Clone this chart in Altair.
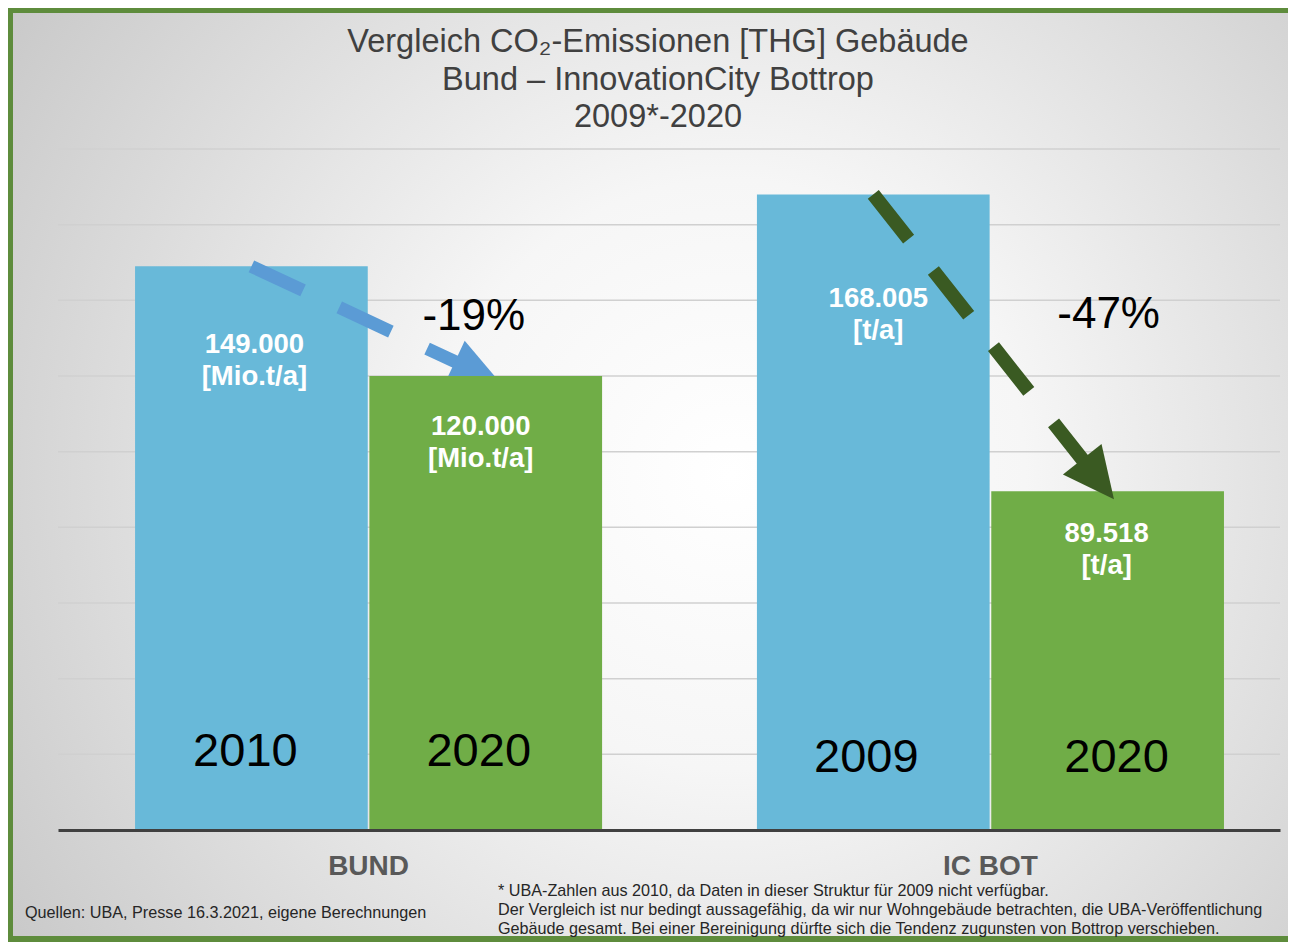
import altair as alt
import pandas as pd

# ---------------- data ----------------
groups = ["BUND", "BUND", "IC BOT", "IC BOT"]
slots = ["vorher", "nachher", "vorher", "nachher"]
years = ["2010", "2020", "2009", "2020"]
values = [149000, 120000, 168005, 89518]
units = ["[Mio.t/a]", "[Mio.t/a]", "[t/a]", "[t/a]"]
group_order = ["BUND", "IC BOT"]
slot_order = ["vorher", "nachher"]
grid_values = [20000, 40000, 60000, 80000, 100000, 120000, 140000, 160000, 180000]

title_lines = ["Vergleich CO₂-Emissionen [THG] Gebäude",
               "Bund – InnovationCity Bottrop",
               "2009*-2020"]
source_text = "Quellen: UBA, Presse 16.3.2021, eigene Berechnungen"
footnote_lines = [
    "* UBA-Zahlen aus 2010, da Daten in dieser Struktur für 2009 nicht verfügbar.",
    "Der Vergleich ist nur bedingt aussagefähig, da wir nur Wohngebäude betrachten, die UBA-Veröffentlichung",
    "Gebäude gesamt. Bei einer Bereinigung dürfte sich die Tendenz zugunsten von Bottrop verschieben.",
]

df = pd.DataFrame(dict(group=groups, slot=slots, year=years, value=values, unit=units))
df["order"] = [slot_order.index(s) for s in slots]
df["label"] = [f"{v:,}".replace(",", ".") + "\n" + u for v, u in zip(values, units)]

pct_rows = []
for g in group_order:
    sub = df[df.group == g]
    v0 = sub[sub.slot == "vorher"].value.iloc[0]
    v1 = sub[sub.slot == "nachher"].value.iloc[0]
    pct_rows.append(dict(group=g, slot="nachher", value=v1,
                         pct=f"{round((v1 - v0) / v0 * 100)}%"))
pct_df = pd.DataFrame(pct_rows)
grid_df = pd.DataFrame(dict(v=grid_values))
one = pd.DataFrame(dict(k=[0]))

# ---------------- style ----------------
FONT = "Liberation Sans"
BLUE = "#68B9D9"
GREEN = "#70AD47"
ARROW_BLUE = "#5B9BD5"
ARROW_GREEN = "#3A5A22"
BORDER = "#5E8C3C"
W, H = 1222, 681

x_enc = alt.X("group:N", sort=group_order,
              scale=alt.Scale(paddingInner=0.249, paddingOuter=0.107, align=0.579),
              axis=alt.Axis(title=None, labelAngle=0, labelFont=FONT, labelFontSize=28,
                            labelFontWeight="bold", labelColor="#595959", labelPadding=22,
                            ticks=False, domainColor="#404040", domainWidth=3,
                            grid=False, zindex=1))
xoff = alt.XOffset("slot:N", sort=slot_order, scale=alt.Scale(paddingInner=0.007))
y_scale = alt.Scale(domain=[0, 180000], nice=False)
y_enc = alt.Y("value:Q", scale=y_scale, axis=None)

# background with gradient and green frame
bg = alt.Chart(one).mark_rect(
    fill=alt.RadialGradient(
        gradient="radial",
        stops=[alt.GradientStop(offset=0, color="#ffffff"),
               alt.GradientStop(offset=0.3, color="#f6f6f6"),
               alt.GradientStop(offset=1, color="#bfbfbf")],
        x1=0.55, y1=0.5, r1=0, x2=0.55, y2=0.5, r2=0.75),
    stroke=BORDER, strokeWidth=6,
).encode(x=alt.value(-48), x2=alt.value(W + 40), y=alt.value(-139), y2=alt.value(H + 109))

grid = alt.Chart(grid_df).mark_rule(color="#d0d0d0", strokeWidth=1.5).encode(
    y=alt.Y("v:Q", scale=y_scale, axis=None), x=alt.value(0), x2=alt.value(W))

color_enc = alt.Color("slot:N", scale=alt.Scale(domain=slot_order, range=[BLUE, GREEN]), legend=None)
bars = alt.Chart(df).mark_bar().encode(x=x_enc, xOffset=xoff, y=y_enc, color=color_enc)
bars_before = bars.transform_filter(alt.datum.slot == "vorher")
bars_after = bars.transform_filter(alt.datum.slot == "nachher")

def arrow(group, color, width, dash, angle, path, size):
    base = alt.Chart(df).transform_filter(alt.datum.group == group)
    line = base.mark_line(color=color, strokeWidth=width, strokeDash=dash, strokeCap="butt").encode(
        x=x_enc, xOffset=xoff, y=y_enc, order="order:Q")
    head = base.transform_filter(alt.datum.slot == "nachher").mark_point(
        shape=path, size=size, angle=angle, filled=True, fill=color, opacity=1, strokeWidth=0
    ).encode(x=x_enc, xOffset=xoff, y=y_enc)
    return line + head

arrow_bund = arrow("BUND", ARROW_BLUE, 13, [57, 40], 25.1,
                   "M0.32,0 L-0.68,-0.46 L-0.68,0.46 Z", 10000)
arrow_ic = arrow("IC BOT", ARROW_GREEN, 14, [57, 40], 51.7,
                 "M0.2,0 L-0.8,-0.48 L-0.8,0.48 Z", 10500)

value_offsets = {("BUND", "vorher"): (3, 79), ("BUND", "nachher"): (-5, 51),
                 ("IC BOT", "vorher"): (5, 105), ("IC BOT", "nachher"): (-1, 43)}
year_offsets = {("BUND", "vorher"): (-6, -78), ("BUND", "nachher"): (-7, -78),
                ("IC BOT", "vorher"): (-7, -72), ("IC BOT", "nachher"): (9, -72)}
pct_offsets = {"BUND": (-12, -59), "IC BOT": (1, -176)}

labels = []
for (g, s), (dx, dy) in value_offsets.items():
    labels.append(alt.Chart(df).transform_filter(
        (alt.datum.group == g) & (alt.datum.slot == s)).mark_text(
        font=FONT, fontSize=27.5, fontWeight="bold", color="white", lineBreak="\n",
        lineHeight=32, align="center", baseline="middle", dx=dx, dy=dy
    ).encode(x=x_enc, xOffset=xoff, y=y_enc, text="label:N"))
for (g, s), (dx, dy) in year_offsets.items():
    labels.append(alt.Chart(df).transform_filter(
        (alt.datum.group == g) & (alt.datum.slot == s)).mark_text(
        font=FONT, fontSize=47, color="black", align="center", baseline="middle", dx=dx, dy=dy
    ).encode(x=x_enc, xOffset=xoff, y=alt.value(H), text="year:N"))
for g, (dx, dy) in pct_offsets.items():
    labels.append(alt.Chart(pct_df).transform_filter(alt.datum.group == g).mark_text(
        font=FONT, fontSize=44, color="black", align="center", baseline="middle", dx=dx, dy=dy
    ).encode(x=x_enc, xOffset=xoff, y=y_enc, text="pct:N"))

title = alt.Chart(one).mark_text(
    text=title_lines, font=FONT, fontSize=32.5, lineHeight=37.5, color="#404040",
    align="center", baseline="middle").encode(x=alt.value(600), y=alt.value(-107))
source = alt.Chart(one).mark_text(
    text=source_text, font=FONT, fontSize=16.2, color="#262626",
    align="left", baseline="middle").encode(x=alt.value(-33), y=alt.value(764))
foot = alt.Chart(one).mark_text(
    text=footnote_lines, font=FONT, fontSize=16.2, lineHeight=19, color="#262626",
    align="left", baseline="middle").encode(x=alt.value(440), y=alt.value(742))

chart = alt.layer(
    bg, grid, bars_before, arrow_bund, bars_after, arrow_ic, *labels, title, source, foot
).properties(
    width=W, height=H,
    padding={"left": 50, "top": 141, "right": 8, "bottom": 112},
    autosize=alt.AutoSizeParams(type="none"),
).configure_view(stroke=None).configure(background="white")

chart.save("out.html", embed_options={"renderer": "svg", "actions": False})
